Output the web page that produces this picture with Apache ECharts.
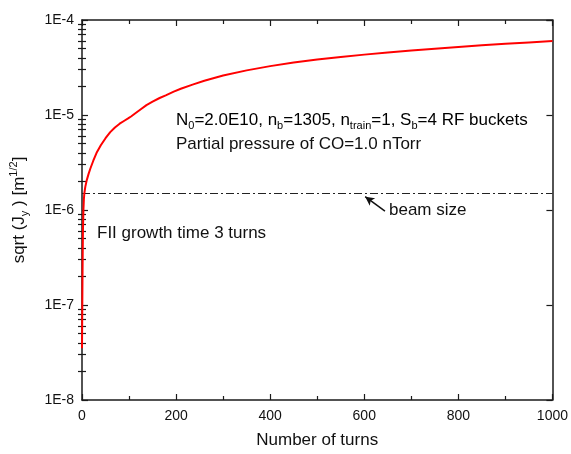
<!DOCTYPE html>
<html>
<head>
<meta charset="utf-8">
<script src="https://cdn.jsdelivr.net/npm/echarts@6/dist/echarts.min.js"></script>
<style>
  html, body { margin: 0; padding: 0; background: #fff; }
  #chart { width: 571px; height: 454px; }
</style>
</head>
<body>
<div id="chart"></div>
<script>
// Number of turns (x) and vertical amplitude sqrt(J_y) in m^(1/2)
const turns = [0, 0.5, 1, 1.5, 2, 3, 4, 5, 7, 10, 14, 18, 24, 31, 40, 50, 60, 70, 80, 90, 98,
  105, 112, 125, 137, 150, 165, 178, 195, 210, 235, 260, 300, 350, 400, 450, 500, 550, 600,
  650, 700, 750, 800, 850, 900, 950, 1000];
const sqrtJy = [3.5e-8, 8e-8, 1.8e-7, 3.5e-7, 6e-7, 1.0e-6, 1.3e-6, 1.5e-6, 1.75e-6, 2.05e-6,
  2.4e-6, 2.75e-6, 3.3e-6, 4.0e-6, 4.8e-6, 5.7e-6, 6.6e-6, 7.4e-6, 8.1e-6, 8.7e-6, 9.2e-6,
  9.7e-6, 1.03e-5, 1.15e-5, 1.27e-5, 1.38e-5, 1.51e-5, 1.61e-5, 1.76e-5, 1.89e-5, 2.09e-5,
  2.29e-5, 2.6e-5, 2.95e-5, 3.27e-5, 3.56e-5, 3.83e-5, 4.07e-5, 4.32e-5, 4.55e-5, 4.78e-5,
  4.99e-5, 5.21e-5, 5.41e-5, 5.61e-5, 5.81e-5, 6.0e-5];

// Beam size reference level and the arrow pointing at it
const beamSize = 1.5e-6;
const arrowFrom = [644, 9.75e-7];
const arrowTo = [602, 1.38e-6];

// Axis ranges and ticks
const xMin = 0, xMax = 1000, xStep = 200;
const yMin = 1e-8, yMax = 1e-4;
const yDecadeMin = -8, yDecadeMax = -4;
// minor ticks at 2..9 x 10^e, expressed as exponents for a linear helper axis
const yMinorTicks = [];
for (let e = yDecadeMin; e < yDecadeMax; e++) {
  for (let m = 2; m <= 9; m++) yMinorTicks.push(e + Math.log10(m));
}

const FONT = '"Liberation Sans", Arial, sans-serif';
const AXIS_COLOR = '#1a1a1a';
const SUB_COLOR = '#4b2a73';

const chart = echarts.init(document.getElementById('chart'), null, { renderer: 'canvas' });

function xAxisDef(pos, showLabels) {
  return {
    type: 'value', position: pos, min: xMin, max: xMax, interval: xStep,
    axisLine: { show: true, onZero: false, lineStyle: { color: AXIS_COLOR, width: 1.5 } },
    axisTick: { show: true, inside: true, length: 6, lineStyle: { color: AXIS_COLOR, width: 1.2 } },
    minorTick: { show: true, splitNumber: 2, length: 4, lineStyle: { color: AXIS_COLOR, width: 1.2 } },
    splitLine: { show: false },
    axisLabel: { show: showLabels, color: '#111', fontFamily: FONT, fontSize: 14, margin: 9,
      formatter: v => String(v) },
    name: showLabels ? 'Number of turns' : '',
    nameLocation: 'middle', nameGap: 32,
    nameTextStyle: { color: '#111', fontFamily: FONT, fontSize: 17 }
  };
}

function yMajorDef(pos, showLabels) {
  return {
    type: 'log', logBase: 10, position: pos, min: yMin, max: yMax,
    axisLine: { show: true, onZero: false, lineStyle: { color: AXIS_COLOR, width: 1.5 } },
    axisTick: { show: true, inside: true, length: 6, lineStyle: { color: AXIS_COLOR, width: 1.2 } },
    splitLine: { show: false },
    axisLabel: {
      show: showLabels, color: '#111', fontFamily: FONT, fontSize: 14, margin: 8,
      formatter: v => '1E' + Math.round(Math.log10(v))
    },
    name: showLabels ? '{t|sqrt (J}{sub|y}{t| ) [m}{sup|1/2}{t|]}' : '',
    nameLocation: 'middle', nameRotate: 90, nameGap: 52,
    nameTextStyle: {
      color: '#111', fontFamily: FONT, fontSize: 17,
      rich: {
        t: { fontFamily: FONT, fontSize: 17, color: '#111', lineHeight: 22 },
        sub: { fontFamily: FONT, fontSize: 11, color: '#111', lineHeight: 10, verticalAlign: 'bottom' },
        sup: { fontFamily: FONT, fontSize: 11, color: '#111', lineHeight: 10, verticalAlign: 'top' }
      }
    }
  };
}

// linear axis in decade exponents, only used to draw the minor log ticks
function yMinorDef(pos) {
  return {
    type: 'value', position: pos, min: yDecadeMin, max: yDecadeMax,
    axisLine: { show: false },
    axisTick: { show: true, inside: true, length: 4, customValues: yMinorTicks,
      lineStyle: { color: AXIS_COLOR, width: 1.2 } },
    axisLabel: { show: false },
    splitLine: { show: false }
  };
}

const base = { fontFamily: FONT, fontSize: 17, color: '#111', lineHeight: 22 };
const sub = { fontFamily: FONT, fontSize: 11, color: SUB_COLOR, lineHeight: 10, verticalAlign: 'bottom' };

const option = {
  backgroundColor: '#fff',
  animation: false,
  grid: { left: 80, right: 15, top: 20, bottom: 54, containLabel: false },
  xAxis: [xAxisDef('bottom', true), xAxisDef('top', false)],
  yAxis: [yMajorDef('left', true), yMajorDef('right', false), yMinorDef('left'), yMinorDef('right')],
  series: [
    {
      type: 'line',
      xAxisIndex: 0, yAxisIndex: 0,
      data: turns.map((t, i) => [t, sqrtJy[i]]),
      showSymbol: false, symbol: 'none', smooth: false,
      lineStyle: { color: '#ff0000', width: 2, join: 'round' },
      z: 5
    },
    {
      type: 'line',
      xAxisIndex: 0, yAxisIndex: 0,
      data: [],
      markLine: {
        silent: true, symbol: ['none', 'none'],
        label: { show: false },
        lineStyle: { color: '#222', width: 1, type: [8, 3, 2, 3] },
        data: [[{ coord: [xMin, beamSize] }, { coord: [xMax, beamSize] }]]
      }
    },
    {
      type: 'line',
      xAxisIndex: 0, yAxisIndex: 0,
      data: [],
      markLine: {
        silent: true,
        symbol: ['none', 'arrow'], symbolSize: [7, 9],
        label: { show: false },
        lineStyle: { color: '#111', width: 1.5, type: 'solid' },
        data: [[{ coord: arrowFrom }, { coord: arrowTo }]]
      }
    }
  ],
  graphic: [
    {
      type: 'text', left: 176, top: 112,
      style: {
        text: '{b|N}{s|0}{b|=2.0E10, n}{s|b}{b|=1305, n}{s|train}{b|=1, S}{s|b}{b|=4 RF buckets}',
        rich: { b: base, s: sub }
      }
    },
    {
      type: 'text', left: 176, top: 136,
      style: { text: 'Partial pressure of CO=1.0 nTorr', font: '17px ' + FONT, fill: '#111' }
    },
    {
      type: 'text', left: 97, top: 225,
      style: { text: 'FII growth time 3 turns', font: '17px ' + FONT, fill: '#111' }
    },
    {
      type: 'text', left: 389, top: 202,
      style: { text: 'beam size', font: '17px ' + FONT, fill: '#111' }
    }
  ]
};

chart.setOption(option);
</script>
</body>
</html>
